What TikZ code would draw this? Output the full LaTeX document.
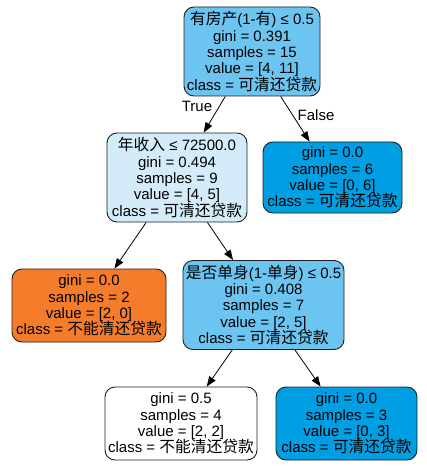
\documentclass[tikz,border=0pt]{standalone}
\usepackage{fontspec}
\setmainfont{Liberation Sans}
\newfontfamily\cjk[Scale=1.05]{Noto Sans CJK SC}
\usetikzlibrary{arrows.meta}
\definecolor{cRoot}{RGB}{108,196,240}
\definecolor{cPale}{RGB}{212,236,250}
\definecolor{cLeaf}{RGB}{0,158,226}
\definecolor{cOrange}{RGB}{245,124,42}
\definecolor{cBorder}{RGB}{30,30,30}
\begin{document}
\begin{tikzpicture}[x=1pt,y=-1pt,
  box/.style={draw=cBorder, line width=0.9pt, rounded corners=10pt, align=center,
    font=\fontsize{15}{16.4}\selectfont, inner sep=0pt},
  edge/.style={draw=black, line width=0.8pt, -{Triangle[length=10pt,width=7.5pt]}},
  elabel/.style={font=\fontsize{15}{16}\selectfont}]
\useasboundingbox (0,0) rectangle (426,470);
\node[box, fill=cRoot, minimum width=136pt, minimum height=89pt] (root) at (252,51.5)
  {{\cjk 有房产}(1-{\cjk 有}) ≤ 0.5\\gini = 0.391\\samples = 15\\value = [4, 11]\\class = {\cjk 可清还贷款}};
\node[box, fill=cPale, minimum width=140pt, minimum height=89pt] (n2) at (177,177.5)
  {{\cjk 年收入} ≤ 72500.0\\gini = 0.494\\samples = 9\\value = [4, 5]\\class = {\cjk 可清还贷款}};
\node[box, fill=cLeaf, minimum width=139pt, minimum height=71pt] (r1) at (332.5,177.5)
  {gini = 0.0\\samples = 6\\value = [0, 6]\\class = {\cjk 可清还贷款}};
\node[box, fill=cOrange, minimum width=154pt, minimum height=73pt] (l1) at (89,305.5)
  {gini = 0.0\\samples = 2\\value = [2, 0]\\class = {\cjk 不能清还贷款}};
\node[box, fill=cRoot, minimum width=161pt, minimum height=89pt] (n3) at (263.5,305)
  {{\cjk 是否单身}(1-{\cjk 单身}) ≤ 0.5\\gini = 0.408\\samples = 7\\value = [2, 5]\\class = {\cjk 可清还贷款}};
\node[box, fill=white, minimum width=152pt, minimum height=73pt] (l2) at (181,423.5)
  {gini = 0.5\\samples = 4\\value = [2, 2]\\class = {\cjk 不能清还贷款}};
\node[box, fill=cLeaf, minimum width=141pt, minimum height=73pt] (l3) at (346.5,423.5)
  {gini = 0.0\\samples = 3\\value = [0, 3]\\class = {\cjk 可清还贷款}};
\draw[edge] (root) -- (n2);
\draw[edge] (root) -- (r1);
\draw[edge] (n2) -- (l1);
\draw[edge] (n2) -- (n3);
\draw[edge] (n3) -- (l2);
\draw[edge] (n3) -- (l3);
\node[elabel] (tl) at (197,106) {True};
\node[elabel] (fl) at (316,115) {False};
\end{tikzpicture}
\end{document}
